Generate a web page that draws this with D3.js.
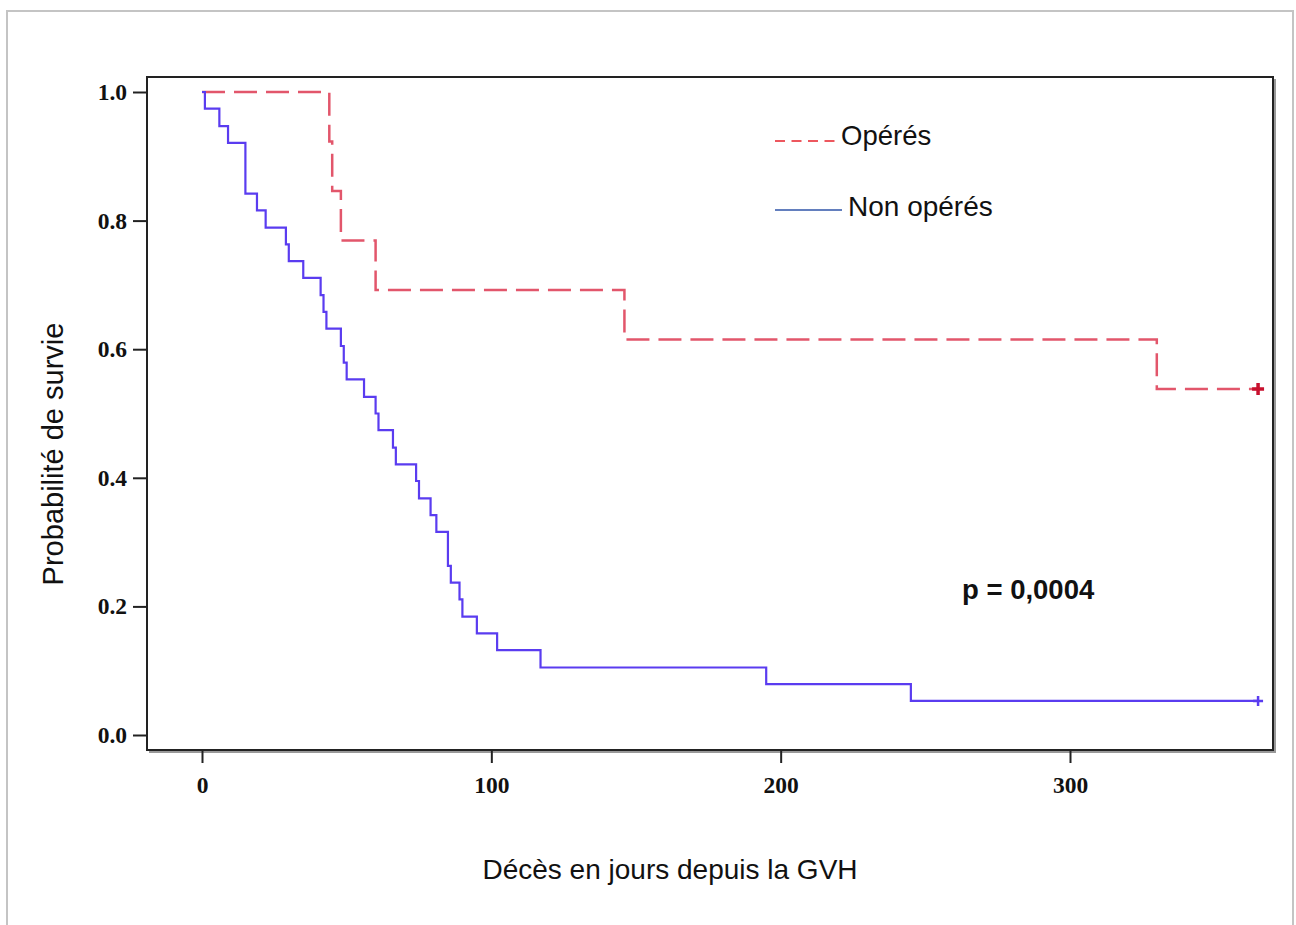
<!DOCTYPE html>
<html>
<head>
<meta charset="utf-8">
<script src="https://d3js.org/d3.v7.min.js"></script>
<style>
  body { margin: 0; background: #fff; }
  svg { display: block; }
</style>
</head>
<body>
<svg id="km" width="1296" height="925"></svg>
<script>
// Non opérés: event times (days) and survival just after each event
let timesNon = [1, 6, 9, 15, 19, 22, 29, 30, 35, 41, 42, 43, 48, 49, 50, 56, 60, 61,
  66, 67, 74, 75, 79, 81, 85, 86, 89, 90, 95, 102, 117, 195, 245];
let survNon = [0.974, 0.947, 0.921, 0.842, 0.816, 0.789, 0.763, 0.737, 0.711, 0.684,
  0.658, 0.632, 0.605, 0.579, 0.553, 0.526, 0.500, 0.474, 0.447, 0.421, 0.395,
  0.368, 0.342, 0.316, 0.263, 0.237, 0.211, 0.184, 0.158, 0.132, 0.105, 0.079, 0.053];

// Opérés
let timesOp = [44, 45, 48, 60, 146, 330];
let survOp = [0.923, 0.846, 0.769, 0.692, 0.615, 0.538];

let lastFollowUp = 365; // censored at end for both groups
let xTicks = [0, 100, 200, 300];
let yTicks = [0, 0.2, 0.4, 0.6, 0.8, 1.0];
let legendLabels = ["Opérés", "Non opérés"];
let pText = "p = 0,0004";

let svg = d3.select("#km");

// outer grey border of the figure
svg.append("path")
  .attr("d", "M7,925 L7,11 L1293,11 L1293,925")
  .attr("fill", "none")
  .attr("stroke", "#c4c4c4")
  .attr("stroke-width", 2);

// plot frame in pixels
let frame = { left: 147, top: 77, right: 1273, bottom: 750 };

let x = d3.scaleLinear().domain([0, 300]).range([202, 1070]);
let y = d3.scaleLinear().domain([0, 1]).range([735, 92]);

// frame with a light shadow on right / bottom
svg.append("path")
  .attr("d", `M${frame.right + 2},${frame.top + 2} L${frame.right + 2},${frame.bottom + 2} L${frame.left + 2},${frame.bottom + 2}`)
  .attr("fill", "none").attr("stroke", "#999").attr("stroke-width", 2);
svg.append("rect")
  .attr("x", frame.left).attr("y", frame.top)
  .attr("width", frame.right - frame.left).attr("height", frame.bottom - frame.top)
  .attr("fill", "none").attr("stroke", "#222").attr("stroke-width", 2);

// axes
let yAxis = d3.axisLeft(y).tickValues(yTicks).tickFormat(d3.format(".1f"))
  .tickSize(14).tickSizeOuter(0).tickPadding(6);
let yGroup = svg.append("g").attr("transform", `translate(${frame.left},0)`).call(yAxis);

let xAxis = d3.axisBottom(x).tickValues(xTicks).tickFormat(d3.format("d"))
  .tickSize(13).tickSizeOuter(0).tickPadding(13);
let xGroup = svg.append("g").attr("transform", `translate(0,${frame.bottom})`).call(xAxis);

[xGroup, yGroup].forEach(g => {
  g.select(".domain").remove();
  g.selectAll(".tick line").attr("stroke", "#222").attr("stroke-width", 2);
  g.selectAll(".tick text")
    .attr("fill", "#111")
    .style("font-family", "'Liberation Serif', 'DejaVu Serif', serif")
    .style("font-weight", "bold")
    .style("font-size", "23.5px");
});

// survival curves
let toSteps = (times, surv) => {
  let pts = [[0, 1]];
  times.forEach((t, i) => pts.push([t, surv[i]]));
  pts.push([lastFollowUp, surv[surv.length - 1]]);
  return pts;
};

let line = d3.line()
  .x(d => x(d[0]))
  .y(d => y(d[1]))
  .curve(d3.curveStepAfter);

let opPts = toSteps(timesOp, survOp);
let nonPts = toSteps(timesNon, survNon);

svg.append("path")
  .attr("d", line(opPts))
  .attr("fill", "none")
  .attr("stroke", "#e2566b")
  .attr("stroke-width", 2.5)
  .attr("stroke-dasharray", "23,9");

svg.append("path")
  .attr("d", line(nonPts))
  .attr("fill", "none")
  .attr("stroke", "#5a3cf0")
  .attr("stroke-width", 2.2);

// censor marks
let cross = (cx, cy, r, color, w) => {
  svg.append("path")
    .attr("d", `M${cx - r},${cy} L${cx + r},${cy} M${cx},${cy - r} L${cx},${cy + r}`)
    .attr("stroke", color).attr("stroke-width", w).attr("fill", "none");
};
cross(x(lastFollowUp), y(survOp[survOp.length - 1]), 6, "#c8102e", 3.5);
cross(x(lastFollowUp), y(survNon[survNon.length - 1]), 5, "#5a3cf0", 2.5);

// legend
let sans = "'Liberation Sans', Arial, Helvetica, sans-serif";
svg.append("line")
  .attr("x1", 775).attr("x2", 838).attr("y1", 141).attr("y2", 141)
  .attr("stroke", "#e8202a").attr("stroke-width", 1.5)
  .attr("stroke-dasharray", "10,6.5");
svg.append("text")
  .attr("x", 841).attr("y", 145)
  .style("font-family", sans).style("font-size", "27.5px").attr("fill", "#111")
  .text(legendLabels[0]);

svg.append("line")
  .attr("x1", 775).attr("x2", 842).attr("y1", 210).attr("y2", 210)
  .attr("stroke", "#2f55a8").attr("stroke-width", 1.5);
svg.append("text")
  .attr("x", 848).attr("y", 216)
  .style("font-family", sans).style("font-size", "28px").attr("fill", "#111")
  .text(legendLabels[1]);

// p-value
svg.append("text")
  .attr("x", 962).attr("y", 599)
  .style("font-family", sans).style("font-size", "27.5px").style("font-weight", "bold")
  .attr("fill", "#111")
  .text(pText);

// axis titles
svg.append("text")
  .attr("x", 670).attr("y", 879)
  .attr("text-anchor", "middle")
  .style("font-family", sans).style("font-size", "28px").attr("fill", "#111")
  .text("Décès en jours depuis la GVH");

svg.append("text")
  .attr("transform", "translate(63,454) rotate(-90)")
  .attr("text-anchor", "middle")
  .style("font-family", sans).style("font-size", "29px").attr("fill", "#111")
  .text("Probabilité de survie");
</script>
</body>
</html>
